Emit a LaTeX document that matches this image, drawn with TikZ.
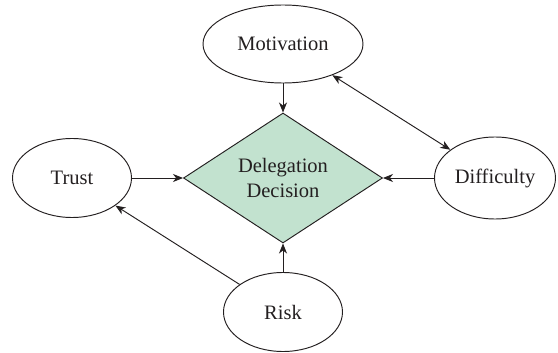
\documentclass[tikz,border=0pt]{standalone}
\usepackage{fontspec}
\setmainfont{Liberation Serif}
\usetikzlibrary{shapes.geometric,arrows.meta}
\definecolor{inkgray}{HTML}{231F20}
\definecolor{decisiongreen}{HTML}{C2E2CF}
\tikzset{
  factor/.style={ellipse, draw=inkgray, line width=0.95pt, inner sep=0pt,
    text=inkgray, font=\fontsize{20.5}{25}\selectfont},
  decision/.style={diamond, draw=inkgray, fill=decisiongreen, line width=0.95pt,
    inner sep=0pt, aspect=1.5, minimum width=199pt, minimum height=130pt,
    text=inkgray, align=center, font=\fontsize{20.5}{25}\selectfont},
  tip/.style={Stealth[length=10pt,width=8pt,inset=3pt]},
  link/.style={draw=inkgray, line width=0.95pt, -{Stealth[length=10pt,width=8pt,inset=3pt]}},
  dlink/.style={draw=inkgray, line width=0.95pt,
    {Stealth[length=10pt,width=8pt,inset=3pt]}-{Stealth[length=10pt,width=8pt,inset=3pt]}}
}
\begin{document}
\begin{tikzpicture}[x=1pt,y=-1pt]
\useasboundingbox (0,0) rectangle (558,353);
% central decision
\node[decision] (dec) at (283,178) {Delegation\\Decision};
% influencing factors
\node[factor, minimum width=160pt, minimum height=78pt] (mot) at (283,44) {Motivation};
\node[factor, minimum width=119pt, minimum height=79pt] (tru) at (72,178) {Trust};
\node[factor, minimum width=121pt, minimum height=82pt] (dif) at (495,178) {Difficulty};
\node[factor, minimum width=119pt, minimum height=79pt] (ris) at (283,312) {Risk};
% connectors
\draw[link] (mot) -- (dec);
\draw[link] (tru) -- (dec);
\draw[link] (dif) -- (dec);
\draw[link] (ris) -- (dec);
\draw[link] (ris) -- (tru);
\draw[dlink] (mot) -- (dif);
\end{tikzpicture}
\end{document}
